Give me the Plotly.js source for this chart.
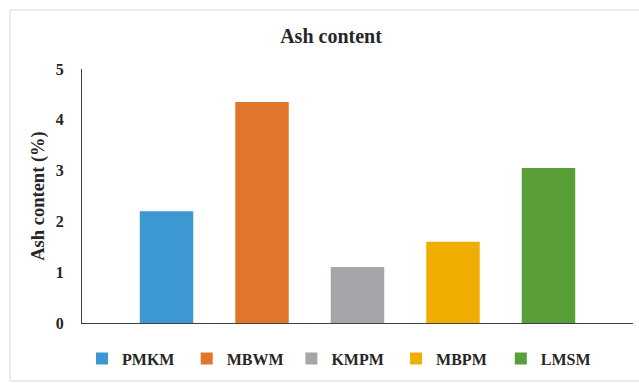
<!DOCTYPE html>
<html>
<head>
<meta charset="utf-8">
<script src="https://cdn.plot.ly/plotly-3.0.1.min.js"></script>
<style>
  html, body { margin: 0; padding: 0; background: #fff; }
  #chart { width: 639px; height: 383px; }
</style>
</head>
<body>
<div id="chart"></div>
<script>
// Ash content of each meal sample (%)
const samples = ["PMKM", "MBWM", "KMPM", "MBPM", "LMSM"];
const ashContent = [2.2, 4.35, 1.1, 1.6, 3.05];
const barColors = ["#3d97d1", "#e0762c", "#a4a6a9", "#efae00", "#5a9e37"];
const yTicks = [0, 1, 2, 3, 4, 5];

const serif = "Liberation Serif, Times New Roman, serif";
const ink = "#262626";

// one trace per sample so each gets its own legend entry
const traces = samples.map((name, i) => ({
  type: "bar",
  name: name,
  x: [i],
  y: [ashContent[i]],
  width: 0.56,
  marker: { color: barColors[i], line: { width: 0 } },
  hoverinfo: "name+y"
}));

const layout = {
  width: 639,
  height: 383,
  margin: { l: 82, r: 6, t: 69, b: 60 },
  paper_bgcolor: "#ffffff",
  plot_bgcolor: "#ffffff",
  barmode: "overlay",
  title: {
    text: "Ash content",
    font: { family: serif, size: 20, weight: "bold", color: ink },
    x: 331 / 639,
    xanchor: "center",
    xref: "container",
    y: 1 - 36 / 383,
    yanchor: "middle",
    yref: "container"
  },
  xaxis: {
    range: [-0.885, 4.885],
    showticklabels: false,
    ticks: "",
    showgrid: false,
    zeroline: false,
    showline: true,
    linecolor: "#404040",
    linewidth: 1,
    fixedrange: true
  },
  yaxis: {
    range: [0, 5],
    tickvals: yTicks,
    tickfont: { family: serif, size: 16, weight: "bold", color: ink },
    ticks: "",
    ticklabelstandoff: 14,
    showgrid: false,
    zeroline: false,
    showline: true,
    linecolor: "#404040",
    linewidth: 1,
    title: {
      text: "Ash content (%)",
      font: { family: serif, size: 18.5, weight: "bold", color: ink },
      standoff: 6
    },
    fixedrange: true
  },
  legend: {
    orientation: "h",
    x: 0,
    xanchor: "left",
    y: -0.14,
    yanchor: "middle",
    bgcolor: "rgba(0,0,0,0)",
    font: { family: serif, size: 16, weight: "bold", color: ink },
    entrywidth: 59.7,
    entrywidthmode: "pixels",
    itemclick: false,
    itemdoubleclick: false
  },
  shapes: [{
    type: "rect",
    xref: "paper",
    yref: "paper",
    x0: -0.1307, x1: 1.03,
    y0: -0.2283, y1: 1.2323,
    line: { color: "#d9d9d9", width: 1 },
    fillcolor: "rgba(0,0,0,0)",
    layer: "below"
  }],
  showlegend: true
};

Plotly.newPlot("chart", traces, layout, { displayModeBar: false, staticPlot: true });
</script>
</body>
</html>
